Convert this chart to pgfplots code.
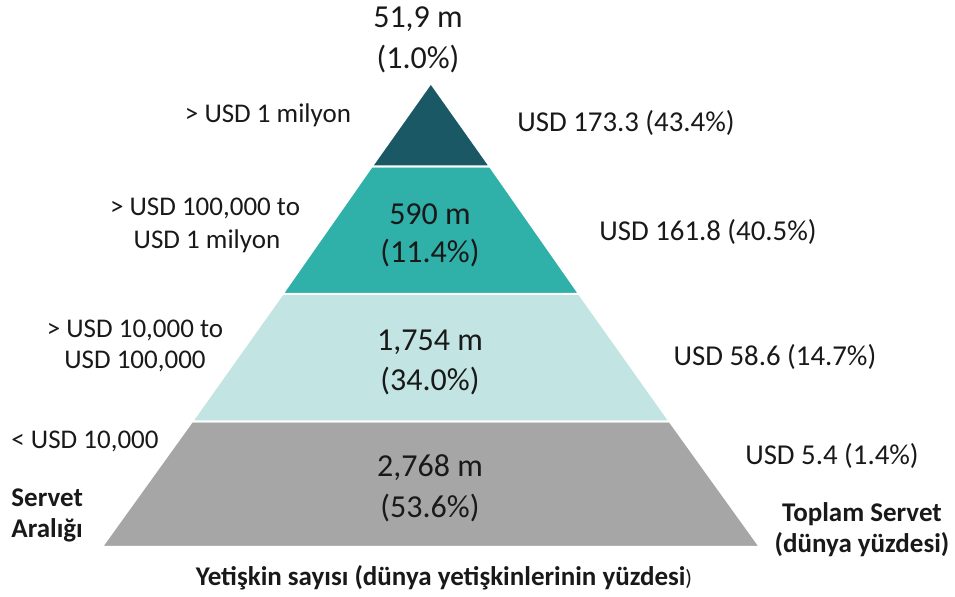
\documentclass[border=0pt]{standalone}
\usepackage{pgfplots}
\pgfplotsset{compat=1.18}
\usepackage{fontspec}
\setmainfont{Carlito}
\definecolor{cA}{RGB}{27,88,102}
\definecolor{cB}{RGB}{47,176,168}
\definecolor{cC}{RGB}{194,229,227}
\definecolor{cD}{RGB}{166,166,166}
\tikzset{
  sm/.style={font=\fontsize{13.5}{16}\selectfont, text=black!90, inner sep=0pt},
  sr/.style={font=\fontsize{14.4}{17}\selectfont, text=black!90, inner sep=0pt},
  sb/.style={font=\fontsize{13.5}{16}\selectfont\bfseries, text=black!90, inner sep=0pt},
  big/.style={font=\fontsize{16}{19}\selectfont, text=black!90, inner sep=0pt},
}
\begin{document}
\begin{tikzpicture}
\begin{axis}[
  width=477.5pt, height=298.5pt, scale only axis,
  xmin=0, xmax=955, ymin=0, ymax=597, y dir=reverse,
  hide axis, clip=false,
]
\path (rel axis cs:0,0) rectangle (rel axis cs:1,1);
% bands (pixel coordinates of the pyramid)
\addplot[fill=cD, draw=white, line width=1pt] coordinates {(101.7,547) (760,547) (669.6,421.3) (192.1,421.3)} -- cycle;
\addplot[fill=cC, draw=white, line width=1pt] coordinates {(192.1,421.3) (669.6,421.3) (579.2,294) (282.5,294)} -- cycle;
\addplot[fill=cB, draw=white, line width=1pt] coordinates {(282.5,294) (579.2,294) (490,166.5) (371.7,166.5)} -- cycle;
\addplot[fill=cA, draw=white, line width=1pt] coordinates {(371.7,166.5) (490,166.5) (430.85,83)} -- cycle;

% centre labels
\node[big] at (axis cs:418,19) {51,9 m};
\node[big] at (axis cs:418,59) {(1.0\%)};
\node[big] at (axis cs:430,214) {590 m};
\node[big] at (axis cs:430,253) {(11.4\%)};
\node[big] at (axis cs:430,342) {1,754 m};
\node[big] at (axis cs:430,381) {(34.0\%)};
\node[big] at (axis cs:430,468) {2,768 m};
\node[big] at (axis cs:430,508) {(53.6\%)};

% left labels
\node[sm] at (axis cs:268,115) {> USD 1 milyon};
\node[sm] at (axis cs:205,208) {> USD 100,000 to};
\node[sm] at (axis cs:207,241) {USD 1 milyon};
\node[sm] at (axis cs:135,330) {> USD 10,000 to};
\node[sm] at (axis cs:135,361) {USD 100,000};
\node[sm] at (axis cs:85,441) {< USD 10,000};
\node[sb, anchor=west] at (axis cs:11,498) {Servet};
\node[sb, anchor=west] at (axis cs:11,530) {Aralığı};

% right labels
\node[sr] at (axis cs:626,123) {USD 173.3 (43.4\%)};
\node[sr] at (axis cs:708,232) {USD 161.8 (40.5\%)};
\node[sr] at (axis cs:775,357) {USD 58.6 (14.7\%)};
\node[sr] at (axis cs:832,456) {USD 5.4 (1.4\%)};
\node[sb] at (axis cs:862,514) {Toplam Servet};
\node[sb] at (axis cs:862,545) {(dünya yüzdesi)};

% bottom title
\node[sm] at (axis cs:444,578) {{\bfseries Yetişkin sayısı (dünya yetişkinlerinin yüzdesi}{\fontsize{11}{13}\selectfont)}};
\end{axis}
\end{tikzpicture}
\end{document}
